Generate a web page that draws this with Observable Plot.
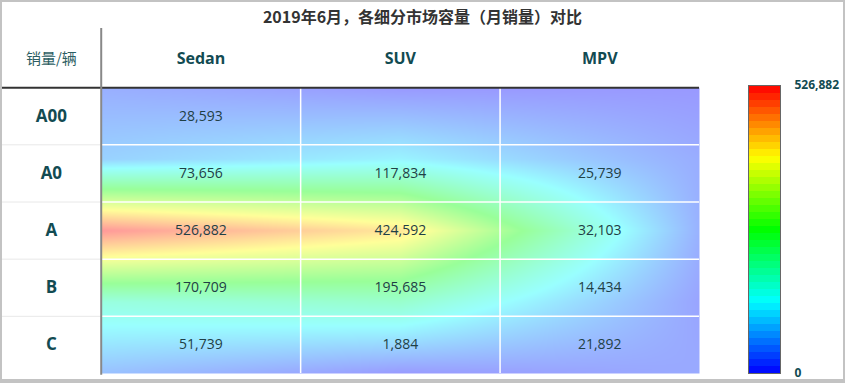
<!DOCTYPE html>
<html><head><meta charset="utf-8">
<script src="https://cdn.jsdelivr.net/npm/d3@7"></script>
<script src="https://cdn.jsdelivr.net/npm/@observablehq/plot@0.6"></script>
<style>
body{margin:0;background:#fff;}
#wrap{position:relative;width:845px;height:383px;overflow:hidden;font-family:"Open Sans",sans-serif;background:#fff;}
#frame{position:absolute;left:0;top:0;width:845px;height:383px;box-sizing:border-box;border:2px solid #c3c3c3;border-bottom-width:4px;pointer-events:none;}
#title{position:absolute;left:0;top:4px;width:845px;text-align:center;font:bold 16px "Noto Sans CJK SC",sans-serif;color:#333;}
#main{position:absolute;left:0;top:28px;}
#legend{position:absolute;left:730px;top:75px;}
</style></head>
<body>
<div id="wrap">
  <div id="title"></div>
  <div id="main"></div>
  <div id="legend"></div>
  <div id="frame"></div>
</div>
<script>
const title = "2019年6月，各细分市场容量（月销量）对比";
const headerLabel = "销量/辆";
const columns = ["Sedan", "SUV", "MPV"];
const rows = ["A00", "A0", "A", "B", "C"];
const sedan = [28593, 73656, 526882, 170709, 51739];
const suv = [null, 117834, 424592, 195685, 1884];
const mpv = [null, 25739, 32103, 14434, 21892];
const legendTicks = [0, 526882];

document.getElementById("title").textContent = title;

const series = [sedan, suv, mpv];
const nC = columns.length, nR = rows.length;
// cell centres for labels; surface samples spread from edge to edge (as in the original surface)
const cells = rows.flatMap((r, i) => columns.map((c, j) => ({
  row: r, col: c,
  xi: j + 0.5, yi: i + 0.5,
  sx: j * nC / (nC - 1), sy: i * nR / (nR - 1),
  value: series[j][i]
})));
const max = d3.max(series.flat());
const color = {
  type: "linear",
  domain: [0, 0.25, 0.5, 0.75, 1].map(t => t * max),
  range: ["#0000ff", "#00ffff", "#00ff00", "#ffff00", "#ff0000"],
  clamp: true
};
const teal = "#124b52";
const fmt = d3.format(",");

// bilinear interpolation of samples lying on a regular grid (raster interpolate hook)
function bilinear(index, width, height, X, Y, V) {
  const key = v => Math.round(v * 1000);
  const xs = Array.from(new Set(Array.from(index, i => key(X[i])))).sort((a, b) => a - b);
  const ys = Array.from(new Set(Array.from(index, i => key(Y[i])))).sort((a, b) => a - b);
  const grid = new Map();
  for (const i of index) grid.set(key(X[i]) + "," + key(Y[i]), V[i]);
  const get = (a, b) => grid.get(xs[a] + "," + ys[b]);
  const W = new Float64Array(width * height);
  const seg = (arr, v) => {
    let k = d3.bisectRight(arr, v) - 1;
    k = Math.max(0, Math.min(arr.length - 2, k));
    const t = Math.max(0, Math.min(1, (v - arr[k]) / (arr[k + 1] - arr[k])));
    return [k, t];
  };
  for (let py = 0; py < height; ++py) {
    const [b, ty] = seg(ys, key(py + 0.5));
    for (let px = 0; px < width; ++px) {
      const [a, tx] = seg(xs, key(px + 0.5));
      const v00 = get(a, b), v10 = get(a + 1, b), v01 = get(a, b + 1), v11 = get(a + 1, b + 1);
      W[py * width + px] = (v00 * (1 - tx) + v10 * tx) * (1 - ty) + (v01 * (1 - tx) + v11 * tx) * ty;
    }
  }
  return W;
}

const main = Plot.plot({
  width: 712, height: 353,
  marginLeft: 1, marginRight: 13, marginTop: 2, marginBottom: 8,
  x: {domain: [-0.5, nC], axis: null},
  y: {domain: [-1, nR], reverse: true, axis: null},
  color,
  style: {fontFamily: "'Open Sans', sans-serif", background: "transparent"},
  marks: [
    Plot.raster(cells, {x: "sx", y: "sy", fill: d => d.value ?? 0, interpolate: bilinear,
      x1: 0, x2: nC, y1: 0, y2: nR, fillOpacity: 0.4}),
    Plot.ruleX(d3.range(1, nC), {y1: 0, y2: nR, stroke: "white", strokeWidth: 1.5}),
    Plot.ruleY(d3.range(1, nR), {x1: 0, x2: nC, stroke: "white", strokeWidth: 1.5}),
    Plot.ruleY(d3.range(1, nR), {x1: -0.5, x2: 0, stroke: "#e8e8e8", strokeWidth: 1}),
    Plot.ruleY([0], {x1: -0.5, x2: nC, stroke: "#333", strokeWidth: 2}),
    Plot.ruleX([0], {y1: -1.05, y2: nR + 0.03, stroke: "#888", strokeWidth: 2}),
    Plot.text(cells.filter(d => d.value != null), {x: "xi", y: "yi", text: d => fmt(d.value), fill: "#1f4046", fontSize: 14}),
    Plot.text(rows, {x: -0.25, y: (d, i) => i + 0.5, text: d => d, fill: teal, fontSize: 17, fontWeight: "bold"}),
    Plot.text(columns, {x: (d, i) => i + 0.5, y: -0.5, text: d => d, fill: teal, fontSize: 16, fontWeight: "bold"}),
    Plot.text([headerLabel], {x: -0.25, y: -0.5, text: d => d, fill: "#2d5e63", fontSize: 15, fontFamily: "'Noto Sans CJK SC', sans-serif"})
  ]
});
document.getElementById("main").append(main);

const legend = Plot.plot({
  width: 115, height: 308,
  marginLeft: 18, marginRight: 65, marginTop: 10, marginBottom: 10,
  x: {domain: [0, 1], axis: null},
  y: {domain: [0, max], axis: null},
  color,
  style: {fontFamily: "'Open Sans', sans-serif", background: "transparent"},
  marks: [
    Plot.raster({fill: (x, y) => y, x1: 0, x2: 1, y1: 0, y2: max, width: 1, height: 41, imageRendering: "pixelated"}),
    Plot.frame({stroke: "#666"}),
    Plot.axisY(legendTicks, {anchor: "right", tickSize: 0, tickPadding: 14, tickFormat: d => fmt(d), fontWeight: "bold", fontSize: 12, color: teal})
  ]
});
document.getElementById("legend").append(legend);
</script>
</body></html>
